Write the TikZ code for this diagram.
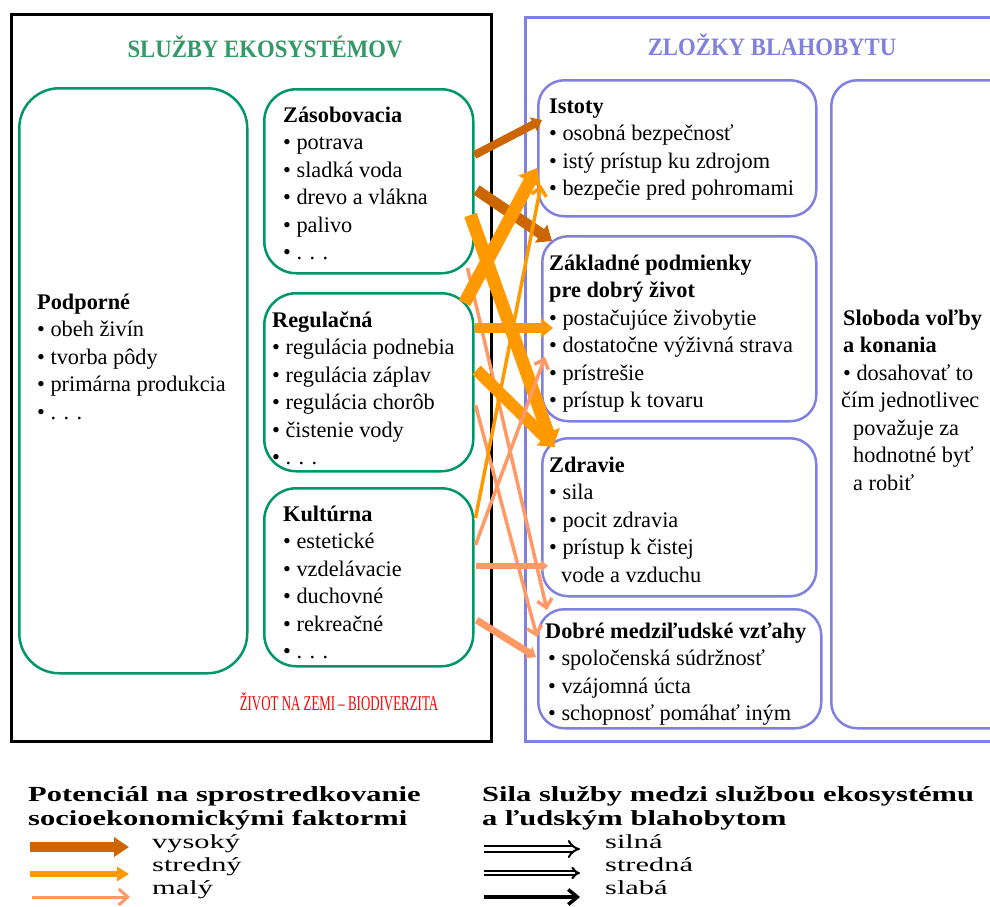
\documentclass[tikz,border=0pt]{standalone}
\usepackage{fontspec}
\usepackage{graphicx}
\setmainfont{Liberation Serif}
\usetikzlibrary{arrows.meta,calc}

\definecolor{ecogreen}{RGB}{0,150,105}
\definecolor{titlegreen}{RGB}{51,153,102}
\definecolor{wellblue}{RGB}{128,128,224}
\definecolor{highc}{RGB}{204,102,0}
\definecolor{midc}{RGB}{255,153,0}
\definecolor{lowc}{RGB}{255,153,102}

\begin{document}
\begin{tikzpicture}[x=1pt,y=-1pt,
  frame/.style={draw, line width=2.5pt, anchor=north west, inner sep=0pt},
  gbox/.style={draw=ecogreen, line width=2.5pt, rounded corners=32pt, anchor=north west, inner sep=0pt},
  bbox/.style={draw=wellblue, line width=2.5pt, rounded corners=26pt, anchor=north west, inner sep=0pt},
  % multi-line blocks are placed by the baseline of their last line
  txt/.style={anchor=base west, inner sep=0pt, align=left, font=\fontsize{22.3}{27.5}\selectfont},
  head/.style={anchor=base, inner sep=0pt, font=\bfseries\fontsize{25}{30}\selectfont},
  legtitle/.style={anchor=base west, inner sep=0pt, font=\bfseries\fontsize{21.5}{25}\selectfont},
  legtext/.style={anchor=base west, inner sep=0pt, font=\fontsize{20}{24}\selectfont},
  blockhead/.style={-{Triangle[length=0pt 1.2, width=0pt 1.9]}},
  barbhead/.style={-{Straight Barb[length=8pt, width=15pt]}},
  high/.style={draw=highc},
  mid/.style={draw=midc},
  low/.style={draw=lowc}
]
\useasboundingbox (0,0) rectangle (990,906);

% outer frames
\node[frame, minimum width=480pt, minimum height=727pt] (eco) at (10,13) {};
\node[frame, draw=wellblue, minimum width=520pt, minimum height=724pt] (well) at (524,16) {};

\node[head, text=titlegreen] (ecotitle) at (265,57) {\scalebox{0.91}[1]{SLUŽBY EKOSYSTÉMOV}};
\node[head, text=wellblue] (welltitle) at (772,55) {\scalebox{0.91}[1]{ZLOŽKY BLAHOBYTU}};

% ecosystem service boxes
\node[gbox, rounded corners=40pt, minimum width=228pt, minimum height=585pt] (supp) at (18,87) {};
\node[gbox, minimum width=209pt, minimum height=184pt] (prov) at (263,88) {};
\node[gbox, minimum width=209pt, minimum height=178pt] (reg) at (263,292) {};
\node[gbox, minimum width=209pt, minimum height=178pt] (cult) at (263,487) {};

% well-being boxes
\node[bbox, minimum width=278pt, minimum height=136pt] (sec) at (537,79) {};
\node[bbox, minimum width=274pt, minimum height=185pt] (basic) at (541,235) {};
\node[bbox, minimum width=274pt, minimum height=158pt] (health) at (541,437) {};
\node[bbox, minimum width=283pt, minimum height=119pt] (social) at (537,608) {};
\node[bbox, minimum width=200pt, minimum height=648pt] (free) at (830,79) {};

% texts
\node[txt] (supptext) at (37,419) {\textbf{Podporné}\\• obeh živín\\• tvorba pôdy\\• primárna produkcia\\• . . .};
\node[txt] (provtext) at (283,259.5) {\textbf{Zásobovacia}\\• potrava\\• sladká voda\\• drevo a vlákna\\• palivo\\• . . .};
\node[txt] (regtext) at (272,464.5) {\textbf{Regulačná}\\• regulácia podnebia\\• regulácia záplav\\• regulácia chorôb\\• čistenie vody\\• . . .};
\node[txt] (culttext) at (283,658.5) {\textbf{Kultúrna}\\• estetické\\• vzdelávacie\\• duchovné\\• rekreačné\\• . . .};

\node[txt] (sectext) at (549,195.5) {\textbf{Istoty}\\• osobná bezpečnosť\\• istý prístup ku zdrojom\\• bezpečie pred pohromami};
\node[txt] (basictext) at (549,407.5) {\textbf{Základné podmienky}\\\textbf{pre dobrý život}\\• postačujúce živobytie\\• dostatočne výživná strava\\• prístrešie\\• prístup k tovaru};
\node[txt] (healthtext) at (549,582) {\textbf{Zdravie}\\• sila\\• pocit zdravia\\• prístup k čistej\\\hspace*{12pt}vode a vzduchu};
\node[txt] (socialtext) at (545,720.5) {\textbf{Dobré medziľudské vzťahy}\\\hspace*{3pt}• spoločenská súdržnosť\\\hspace*{3pt}• vzájomná úcta\\\hspace*{3pt}• schopnosť pomáhať iným};
\node[txt] (freetext) at (843,490) {\textbf{Sloboda voľby}\\\textbf{a konania}\\• dosahovať to\\\hspace*{-2pt}čím jednotlivec\\\hspace*{10pt}považuje za\\\hspace*{10pt}hodnotné byť\\\hspace*{10pt}a robiť};

\node[anchor=base, inner sep=0pt, text=red, font=\fontsize{21}{26}\selectfont] (life) at (339,710) {\scalebox{0.615}[1]{ŽIVOT NA ZEMI – BIODIVERZITA}};

% links between services and well-being
\draw[high, line width=8pt, blockhead] ($(prov.north east)+(0,67)$) -- ($(sec.north west)+(5,41)$);
\draw[high, line width=11pt, blockhead] ($(prov.north east)+(2,102)$) -- ($(basic.north west)+(11,6)$);
\draw[mid, line width=13pt, blockhead] ($(prov.north east)+(-4,127)$) -- ($(health.north west)+(12,10)$);
\draw[low, line width=3.5pt, barbhead] ($(prov.north east)+(-7,180)$) -- ($(social.north west)+(10,2)$);

\draw[mid, line width=13pt, blockhead] ($(reg.north east)+(-10,11)$) -- ($(sec.north west)+(0,89)$);
\draw[mid, line width=10pt, blockhead] ($(reg.north east)+(0,36)$) -- ($(basic.north west)+(12,93)$);
\draw[mid, line width=12pt, blockhead] ($(reg.north east)+(2,78)$) -- ($(health.north west)+(14,10)$);
\draw[low, line width=3.5pt, barbhead] ($(reg.north east)+(1,113)$) -- ($(social.north west)+(0,29)$);

\draw[mid, line width=3.5pt, barbhead] ($(cult.north east)+(1,31)$) -- ($(sec.north west)+(4,106)$);
\draw[low, line width=3.5pt, barbhead] ($(cult.north east)+(1,58)$) -- ($(basic.north west)+(4,122)$);
\draw[low, line width=6pt, blockhead] ($(cult.north east)+(1,79)$) -- ($(health.north west)+(7,129)$);
\draw[low, line width=7pt, blockhead] ($(cult.north east)+(2,133)$) -- ($(social.north west)+(-1,49)$);

% legend: potential for mediation
\node[legtitle] (lt1) at (28,801) {\scalebox{1.42}[1]{Potenciál na sprostredkovanie}};
\node[legtitle] (lt2) at (28,825) {\scalebox{1.42}[1]{socioekonomickými faktormi}};
\node[legtext] (lhigh) at (152,848) {\scalebox{1.52}[1]{vysoký}};
\node[legtext] (lmid) at (152,871) {\scalebox{1.52}[1]{stredný}};
\node[legtext] (llow) at (152,894) {\scalebox{1.52}[1]{malý}};
\coordinate (lh0) at (30,847); \coordinate (lh1) at (129,847);
\coordinate (lm0) at (30,874); \coordinate (lm1) at (129,874);
\coordinate (ll0) at (32,897); \coordinate (ll1) at (130,897);
\draw[high, line width=10pt, -{Triangle[length=15pt, width=19pt]}] (lh0) -- (lh1);
\draw[mid, line width=6pt, -{Triangle[length=12pt, width=14pt]}] (lm0) -- (lm1);
\draw[low, line width=3pt, -{Straight Barb[length=9pt, width=16pt]}] (ll0) -- (ll1);

% legend: strength of linkage
\node[legtitle] (rt1) at (482,801) {\scalebox{1.42}[1]{Sila služby medzi službou ekosystému}};
\node[legtitle] (rt2) at (482,825) {\scalebox{1.42}[1]{a ľudským blahobytom}};
\node[legtext] (rstrong) at (605,848) {\scalebox{1.52}[1]{silná}};
\node[legtext] (rmid) at (605,871) {\scalebox{1.52}[1]{stredná}};
\node[legtext] (rweak) at (605,894) {\scalebox{1.52}[1]{slabá}};
\coordinate (rs0) at (484,849); \coordinate (rs1) at (580,849);
\coordinate (rm0) at (484,873); \coordinate (rm1) at (580,873);
\coordinate (rw0) at (484,897); \coordinate (rw1) at (580,897);
\draw[line width=2pt, double=white, double distance=4pt, -Implies] (rs0) -- (rs1);
\draw[line width=2.2pt, double=white, double distance=1.6pt, -Implies] (rm0) -- (rm1);
\draw[line width=3.5pt, -{Straight Barb[length=9pt, width=15pt]}] (rw0) -- (rw1);
\end{tikzpicture}
\end{document}
